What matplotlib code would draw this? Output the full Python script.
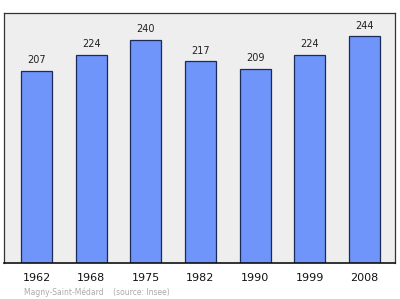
import matplotlib

matplotlib.use("Agg")
import matplotlib.pyplot as plt

YEARS = ["1962", "1968", "1975", "1982", "1990", "1999", "2008"]
POPULATION = [207, 224, 240, 217, 209, 224, 244]

BAR_FACE = "#6f94fa"
BAR_EDGE = "#1c2a5a"
PANEL_BG = "#eeeeee"


def main():
    fig = plt.figure(figsize=(4.0, 2.99), dpi=100, facecolor="white")
    ax = fig.add_axes([4 / 400, 36 / 299, 391 / 400, 250 / 299])
    ax.set_facecolor(PANEL_BG)

    positions = range(len(YEARS))
    bars = ax.bar(positions, POPULATION, width=0.567, color=BAR_FACE,
                  edgecolor=BAR_EDGE, linewidth=0.9, zorder=2)
    for bar, value in zip(bars, POPULATION):
        ax.text(bar.get_x() + bar.get_width() / 2, value + 6, str(value),
                ha="center", va="bottom", fontsize=7, color="#222222")

    ax.set_xlim(-0.594, 6.56)
    ax.set_ylim(0, 269)
    ax.set_yticks([])
    ax.set_xticks(list(positions))
    ax.set_xticklabels(YEARS, fontsize=8, color="#111111")
    ax.tick_params(axis="x", length=0, pad=7)
    for side in ["top", "left", "right"]:
        ax.spines[side].set_color("#333333")
        ax.spines[side].set_linewidth(0.9)
    ax.spines["bottom"].set_color("#111111")
    ax.spines["bottom"].set_linewidth(1.2)

    fig.text(24 / 400, 1 - 292 / 299, "Magny-Saint-Médard    (source: Insee)",
             fontsize=5.5, color="#aaaaaa", ha="left", va="center")

    fig.savefig("out.png", dpi=100, facecolor="white")
    plt.close(fig)


if __name__ == "__main__":
    main()
